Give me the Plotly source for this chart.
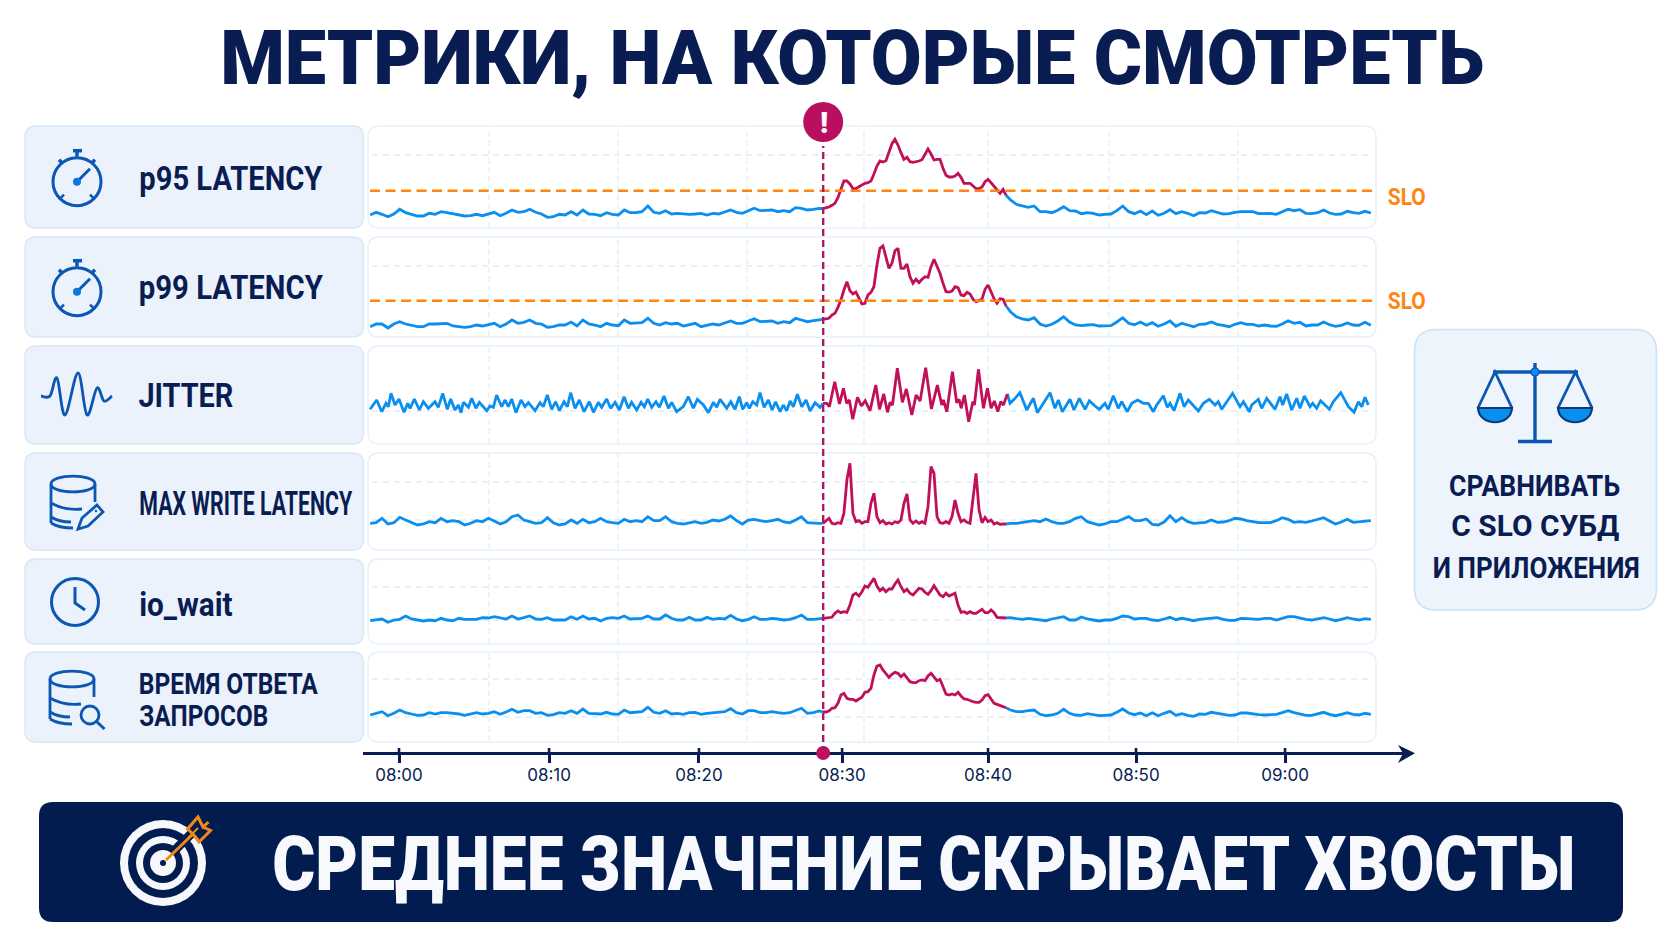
import json
import re
import plotly.graph_objects as go

W, H = 1672, 941

# ---------- text ----------
title_text = "МЕТРИКИ, НА КОТОРЫЕ СМОТРЕТЬ"
banner_text = "СРЕДНЕЕ ЗНАЧЕНИЕ СКРЫВАЕТ ХВОСТЫ"
side_lines = ["СРАВНИВАТЬ", "С SLO СУБД", "И ПРИЛОЖЕНИЯ"]
slo_label = "SLO"

# ---------- time (minutes after 08:00) ----------
t_pre = [round(-1.95 + 0.4 * i, 3) for i in range(77)]
t_inc = [round(28.7 + 0.2033 * i, 3) for i in range(62)]
t_post = [round(41.4 + 0.4 * i, 3) for i in range(62)]
tick_positions = [0, 10.16, 20.31, 30.0, 39.88, 49.9, 59.99]
tick_labels = ["08:00", "08:10", "08:20", "08:30", "08:40", "08:50", "09:00"]
grid_minutes = [6.09, 14.83, 23.56, 31.48, 39.88, 48.07, 56.8]
event_minute = 28.72

# jitter has its own, irregular, sample times
t_jitter_pre = [-1.96,-1.51,-1.17,-0.88,-0.72,-0.54,-0.27,0.0,0.34,0.59,
                0.75,1.04,1.38,1.65,1.99,2.44,2.66,2.96,3.27,3.5,
                3.79,4.02,4.2,4.36,4.7,4.92,5.21,5.44,5.94,6.16,
                6.39,6.61,6.95,7.18,7.4,7.63,7.92,8.26,8.53,8.76,
                9.21,9.55,9.77,10.04,10.34,10.61,10.86,11.17,11.4,11.62,
                11.92,12.21,12.53,12.89,13.16,13.5,13.72,14.06,14.33,14.63,
                14.92,15.24,15.53,15.75,16.09,16.39,16.61,16.84,17.11,17.4,
                17.63,17.94,18.24,18.46,18.8,19.25,19.59,19.93,20.2,20.61,
                20.95,21.28,21.51,21.74,22.19,22.46,22.75,23.04,23.27,23.54,
                23.72,23.95,24.22,24.44,24.72,25.01,25.26,25.5,25.8,26.02,
                26.25,26.48,26.7,26.97,27.27,27.56,27.83,28.17,28.51]
t_jitter_inc = [28.71,28.96,29.14,29.5,29.82,30.09,30.31,30.49,30.72,31.04,
                31.31,31.56,31.89,32.28,32.53,32.82,33.07,33.25,33.41,33.74,
                34.08,34.35,34.72,35.01,35.28,35.66,36.05,36.45,36.75,36.86,
                37.09,37.47,37.76,37.92,38.06,38.28,38.57,38.85,38.96,39.23,
                39.57,39.84,40.09,40.31,40.54,40.74,40.92,41.19]
t_jitter_post = [41.37,41.71,42.04,42.5,42.95,43.22,43.62,44.08,44.41,44.64,
                 44.91,45.43,45.7,46.06,46.45,46.74,47.12,47.42,47.8,48.02,
                 48.36,48.7,48.93,49.31,49.61,50.01,50.4,50.73,51.07,51.3,
                 51.75,52.02,52.2,52.47,52.88,53.15,53.44,53.78,54.12,54.46,
                 54.86,55.25,55.47,55.7,56.04,56.44,56.94,57.17,57.57,57.73,
                 58.18,58.41,58.75,59.31,59.65,59.83,60.1,60.44,60.78,61.0,
                 61.3,61.68,61.86,62.13,62.4,62.99,63.26,63.76,64.28,64.66,
                 64.95,65.18,65.4,65.63]

# ---------- series: before, during and after the incident ----------
p95_pre = [13,15.7,13.7,11.3,14,18.7,15.3,13.7,12,12,
           14.7,13.7,16.3,15.3,14,13,12,12.3,13.7,12.3,
           13.7,15.7,12.3,14.7,18,15.7,16.3,18.7,15.7,14,
           10.7,11.3,13.7,13,16.3,13,18,14,13.7,12.3,
           15.3,13.7,13,18,15.3,15.3,16.3,22,15.7,14.7,
           17.3,14,14.7,14,13.7,14,14.7,13,14.7,14,
           16.3,18,15.7,14.7,17.3,19.7,17.3,17.3,18,16.3,
           17.3,16.3,20.3,19.7,18,18.7,19.7]
p95_inc = [19.3,20,21,22.7,24.7,30.3,39.7,47,47,44,
           39.3,39.3,41.3,43.3,44.7,45.3,47,54,62,67,
           66,67.3,76.3,84.3,88.7,83,75.3,68.7,70.7,66.3,
           65.7,66,67,68.3,73.7,79,74,68,68.7,68.7,
           59.7,52.7,51,51,52,54.7,50.7,44.7,44.7,44.7,
           42,39.3,39.3,41,46.3,48.7,45.3,42,38,34.7,
           38.7,32.7]
p95_post = [28,23.7,22,20.7,22,16.3,16.3,15.3,17.7,21.3,
            17.3,17,14.3,15.3,14.7,13,13.7,14,17.3,22,
            16.3,14.3,17,13.3,17,12.7,14.7,18.3,14.3,16.3,
            14.7,12.3,15.3,15,17.3,15.7,14,14.3,15.7,16.3,
            16,16.3,14.3,14.7,14.7,13.7,16,18.7,17.3,18.3,
            14.7,14.3,15.3,18,15,13.7,14,16.7,15.3,14.7,
            16.7,15]

p99_pre = [10.3,13,13,9,13,15.3,13,12,10.3,10.3,
           13,13,13.7,13.7,11,10.3,9.7,10.3,12,11,
           12,13.7,10.3,13,17,13.7,14.7,17,13.7,13,
           9.7,10.3,12,12,15,11,17,13,12,10.3,
           13.7,12,11.3,17,13.7,13.7,14.3,18.7,13.7,12,
           14.3,13,13.7,11,12,13.7,10.3,12,13,12,
           14.3,16,13.7,13.7,16,18.3,15.3,15.3,16,13.7,
           15.3,14.3,18.7,17,15.3,16.3,17]
p99_inc = [17.7,18.3,18.7,22,23.7,29.7,37,47,55.3,46.3,
           43,45,38.7,33,33.7,42,44.7,50.3,72,88.7,
           91,80.3,68.7,73.7,86.3,88.7,68.7,68.7,73,60.3,
           53.7,57.7,54.3,57.7,60.3,59.7,70.3,77.7,71,63.7,
           53.7,45.3,45,46,50.3,49.3,42,41.3,44.7,43,
           37.7,35.3,36.3,38,47.7,52,45.3,38.3,33.7,38.3,
           37.7,31]
p99_post = [25.3,20.3,18,17,19.3,13,11,12.7,16,20.3,
            15,12,11.3,12,12.3,11,11.3,11.3,15,19.3,
            13.7,12.3,15,11.7,14.3,10.7,13,16,10.7,13.7,
            12,10.3,12.7,13,15,12.7,11.7,10.3,12.7,14.3,
            12.7,12.7,11,12,11,10.7,13,16.3,13.7,14.7,
            11,12,12,15,12.3,10.7,11.7,14,12,11.7,
            14.7,11.7]

jitter_pre = [34.7,44,32.3,40.7,37.3,50.7,39,45,31.7,40.7,
              35.7,45,34,42.3,35.7,42.3,36.7,50.7,34.7,45,
              34,39,31.3,41.7,36.7,45.7,35.7,41.7,33.3,38,
              36.7,49,37.3,44,37.3,45,31.3,44,37.3,41.3,
              33.3,41.3,37.3,49,34.7,42.3,33.3,42.3,37.3,51.3,
              35.7,44,32.3,42.3,31.7,41.7,36.7,45,35.7,41.7,
              34,47.3,35.7,41.7,34,41.7,37.3,45,36.7,42.3,
              36.7,48,35.7,41.7,32.3,37.3,47.3,35.7,44.7,39,
              31.3,41.7,36.7,44.7,35.7,42.3,34.7,47.3,34.7,41.3,
              35.7,42.3,39,51.3,36.7,44,34,42.3,32.3,39,
              33.3,43,37.3,49.7,37.3,44,33,41.3,36.7]
jitter_inc = [40.7,40.7,37.3,62.3,40,55.7,40.7,44,24.7,46.7,
              38,43.3,33.3,59,34.7,50,31.7,41.7,39,75.7,
              41.7,55,29,49,43,76.3,35,59,39,44,
              32.3,72.3,41.3,44.7,35.7,49,22.3,42.3,39,74.7,
              35.7,55.7,35.7,43,32.3,42.3,39,50]
jitter_post = [40.7,45.7,51.3,34,45.7,31.3,40.7,51.3,35.7,44,
               32.3,44.7,34,45.7,34.7,43.3,38,34.7,40.7,34.7,
               48.3,35.7,42.3,32.3,40.7,44,40.7,40.7,32.3,39,
               48.3,36.7,40.7,33.3,50.7,37.3,44,39,33,40.7,
               44.7,39,42.3,34.7,42.3,50.7,37.3,42.3,32.3,39,
               44.7,35.7,45.7,34.7,47.3,39,50,34,45.7,35.7,
               48,37.3,40.7,35.7,43.3,34.7,42.3,51.3,37.3,31.7,
               42.3,37.3,46.7,39]

write_pre = [26.7,27.3,31.7,26,27.3,32.7,30,27.3,25,26,
             28.3,27.3,31.7,28.3,29.3,28.3,25,26.7,29.3,28.3,
             31.7,29,26,28.3,33.3,35,30,28.3,26.7,27.3,
             32.3,27.3,25,26,30,26.7,30.7,27.3,28.3,31.7,
             28.3,27.3,26.7,30.7,28.3,29.3,28.3,33.3,29.3,29.3,
             33.3,28.3,26.7,26,27.3,28.3,26.7,27.7,30,29,
             30.7,34,29.3,26,30,30.7,29.3,28.3,29.3,30.7,
             28,27.3,30,33.3,27.3,26.7,26.7]
write_inc = [26.7,29.3,31.7,26.7,26,27.3,26.7,36.7,70,86.7,
             36.7,28.3,29.3,26.7,28.3,28.3,46.7,56.7,33.3,27.3,
             29.3,26,27.3,26,28.3,27.3,30,46.7,56,30,
             26.7,29,26.7,28.3,26.7,43.3,83.3,76.7,33.3,27.3,
             26.7,28.3,26.7,33.3,50,36.7,28.3,30,27.7,26.7,
             53.3,76.7,40,27.3,32.7,28.3,30,26,27.3,25.7,
             26,26]
write_post = [26.7,26.7,27.7,28.3,29.3,28.3,31,28.3,26.7,26.7,
              28.3,31.7,33.3,28.3,26.7,25,26,28.3,28.3,31,
              33.3,29.3,29.3,31,25.7,25,28,34.3,28.3,32.3,
              28.3,26.7,27.3,27.7,30,27.7,28,29.3,31.7,31,
              29.3,28,27.3,27.3,27.3,29.3,32.3,30.7,27.7,28.3,
              27.7,29,31,32.3,29,26,28,30.7,27.7,28.3,
              28.3,29.3]

io_pre = [23.3,24,25,21.7,24,24.7,28,25,24,23,
          24,23.3,25.7,24,23.3,25.7,24.7,25,24.7,26.3,
          26,27.3,26.3,25,28,25,26.3,28,25,24.7,
          26.3,24,24,24,27.3,24.7,28,25,25.7,23,
          25.7,26.3,25.7,28,25,25,25.7,28,25,25,
          29,25.7,24,24,26.7,24,24,26.7,24.7,25.7,
          25,28.7,25,23.3,24.7,27.3,24.7,24.7,25.7,25,
          24,24.7,26.3,29,24.7,24.7,25.3]
io_inc = [25.7,26,26,26.7,30.7,33,31.3,32.3,31.7,39,
          49,50.7,48,52.3,58,56.7,61.3,65.7,58,53.3,
          55.7,52.3,55,55,60,64,57.3,52.3,54.7,50.7,
          49,52.3,55.7,55,51.7,49.7,53.3,58.3,54,49,
          47.3,50.7,48,49,50.7,39,31.7,32.3,30.7,32.3,
          30.7,30.7,32.3,34.7,31.3,31.3,34,31.3,26.7,26.3,
          26.3,26]
io_post = [26.3,25.3,24.7,25.7,24.7,24,23.3,25,26,27.3,
           24,24,27,25,24,23,24,24,25.7,28,
           27.3,25,25.7,25.7,24,23.3,25,26.7,24.3,25.7,
           24.7,23.3,24.7,25.3,26.3,26.3,24.7,23.7,23.7,25.7,
           25.3,25.3,24.7,25.7,25.7,24,25.3,27.3,27.3,25.7,
           24.7,24,25,26.3,25,23.3,24.7,26.3,25,24,
           25.3,24.7]

query_pre = [27,28.7,30.3,26.3,28.7,32,29.3,28,26.7,27,
             29.3,28,29.3,29.3,28.7,28,26.7,27.7,29.3,28,
             28.7,30.3,27.7,30,32.7,29.7,31.3,31.3,28.7,29.3,
             26.7,27.3,29.3,28.7,31.3,28.7,33,28.7,28.7,28,
             29.7,28,27.7,32,29.3,29.7,30.3,34.7,29.7,28.7,
             31.3,28,28.7,27.7,29.3,29.7,27.7,28.7,29.3,29.3,
             30.3,33.3,29.3,28,31.3,31.3,29.3,29.3,30.3,29.3,
             28.7,29.3,31.3,33.7,28.7,29.3,31]
query_inc = [30,30,31,33.7,34.3,38.7,47,48.7,43.7,42.7,
             42.7,41,43,44.7,49.7,50.3,53.7,67,76,77,
             72,68.7,64.7,67.7,69.7,68.7,65.3,68,64.7,60.3,
             59.3,59.3,61.3,62,61.3,66,68.7,64.7,61.3,62.7,
             55.3,48,47,48,47,49.7,46,43,42.7,41.3,
             40.3,39.7,39.7,42,46.3,47.3,42.7,38.7,37.6,36.3,
             35.3,34.3]
query_post = [32,30.3,30.3,31.3,32,27.7,26.3,27,28.7,32.7,
              28.7,27,26.7,28.3,27.3,26.3,26.7,27,29.7,33,
              29,27.3,29,26.3,29.3,26.3,28.7,30.7,26.7,28.3,
              26.7,25.7,28,27.7,29.7,28.7,27,26.7,27,29,
              29,28,27.3,27,27.3,27.7,29.3,31.3,29.3,28,
              26.7,26.7,28,29.7,27.7,26.3,27.7,29.3,27.7,27,
              28.7,27.7]

series = [
    (t_pre, t_inc, t_post, p95_pre, p95_inc, p95_post),
    (t_pre, t_inc, t_post, p99_pre, p99_inc, p99_post),
    (t_jitter_pre, t_jitter_inc, t_jitter_post, jitter_pre, jitter_inc, jitter_post),
    (t_pre, t_inc, t_post, write_pre, write_inc, write_post),
    (t_pre, t_inc, t_post, io_pre, io_inc, io_post),
    (t_pre, t_inc, t_post, query_pre, query_inc, query_post),
]
slo_values = {0: 37.3, 1: 36.3}
panel_grid_levels = [[73], [71], [33], [68, 30], [57, 24], [63, 25]]

# ---------- layout constants ----------
NAVY = "#0a1d52"
BANNER = "#031c50"
BLUE = "#0a8ef0"
RED = "#c1105a"
ORANGE = "#ff8412"
ICON = "#0b57b3"
panel_tops = [126, 237, 346, 453, 559, 652]
panel_bottoms = [228, 337, 444, 550, 644, 742]
PX0, PXM = 399.0, 14.77
AX_LEFT, AX_RIGHT, AX_Y = 363, 1405, 753


def xp(x):
    return x / W


def yp(y):
    return 1 - y / H


def path_px(d):
    tokens = d.split()
    out, is_x = [], True
    for tok in tokens:
        if re.fullmatch(r"[A-Za-z]", tok):
            out.append(tok)
            is_x = True
        else:
            v = float(tok)
            out.append(f"{xp(v):.6f}" if is_x else f"{yp(v):.6f}")
            is_x = not is_x
    return " ".join(out)


shapes = []


def add_path(d, line=None, width=0, fill=None, layer="below", dash=None):
    ln = dict(color=line or "rgba(0,0,0,0)", width=width)
    if dash:
        ln["dash"] = dash
    shapes.append(dict(type="path", xref="paper", yref="paper", path=path_px(d), line=ln,
                       fillcolor=fill or "rgba(0,0,0,0)", layer=layer))


def rrect(x0, y0, x1, y1, r, line=None, width=0, fill=None):
    add_path(f"M {x0+r} {y0} L {x1-r} {y0} Q {x1} {y0} {x1} {y0+r} L {x1} {y1-r} Q {x1} {y1} {x1-r} {y1} "
             f"L {x0+r} {y1} Q {x0} {y1} {x0} {y1-r} L {x0} {y0+r} Q {x0} {y0} {x0+r} {y0} Z",
             line, width, fill)


def circle(cx, cy, r, line=None, width=0, fill=None):
    shapes.append(dict(type="circle", xref="paper", yref="paper", x0=xp(cx-r), x1=xp(cx+r),
                       y0=yp(cy+r), y1=yp(cy-r), line=dict(color=line or "rgba(0,0,0,0)", width=width),
                       fillcolor=fill or "rgba(0,0,0,0)", layer="below"))


def seg(d, color=ICON, width=3):
    add_path(d, color, width)


def smooth(points):
    d = f"M {points[0][0]} {points[0][1]}"
    n = len(points)
    for i in range(n - 1):
        p0 = points[max(i - 1, 0)]
        p1 = points[i]
        p2 = points[i + 1]
        p3 = points[min(i + 2, n - 1)]
        c1 = (p1[0] + (p2[0] - p0[0]) / 6, p1[1] + (p2[1] - p0[1]) / 6)
        c2 = (p2[0] - (p3[0] - p1[0]) / 6, p2[1] - (p3[1] - p1[1]) / 6)
        d += f" C {c1[0]:.2f} {c1[1]:.2f} {c2[0]:.2f} {c2[1]:.2f} {p2[0]} {p2[1]}"
    return d


# cards and plot panels
for top, bot in zip(panel_tops, panel_bottoms):
    rrect(25, top, 363.5, bot, 11, "#d8e7f8", 1.4, "#ebf2fb")
    rrect(368, top, 1376, bot, 11, "#e6f0fb", 1.4, "#ffffff")
for top, bot in zip(panel_tops, panel_bottoms):
    for m in grid_minutes:
        shapes.append(dict(type="line", xref="x", yref="paper", x0=m, x1=m, y0=yp(bot-1), y1=yp(top+1),
                           line=dict(color="#e4eefa", width=1.3, dash="6px,3px"), layer="below"))
for i, levels in enumerate(panel_grid_levels):
    for lv in levels:
        yref = "y" if i == 0 else f"y{i+1}"
        shapes.append(dict(type="line", xref="paper", yref=yref, x0=xp(372), x1=xp(1368), y0=lv, y1=lv,
                           line=dict(color="#e4ecf8", width=1.3, dash="6px,5px"), layer="below"))

# stopwatch icons
for cy in (181.7, 291.7):
    circle(77, cy, 24, ICON, 3)
    seg(f"M 73 {cy-31} L 82 {cy-31}", ICON, 3.5)
    seg(f"M 77 {cy-31} L 77 {cy-25}", ICON, 3.5)
    seg(f"M 59 {cy-22} L 62 {cy-19}", ICON, 3.5)
    seg(f"M 95 {cy-22} L 92 {cy-19}", ICON, 3.5)
    seg(f"M 77 {cy} L 90 {cy-13}", ICON, 3)
    circle(77, cy, 4, None, 0, "#0a78dd")
    seg(f"M 60 {cy+17} L 64 {cy+13}", ICON, 2.5)
    seg(f"M 94 {cy+17} L 90 {cy+13}", ICON, 2.5)

# wave icon
seg(smooth([(41, 396), (50, 396), (57, 378), (65, 415), (78, 373), (87, 415), (97, 388), (104, 401), (112, 396)]), ICON, 2.8)


def database(cx, top, bottom, rx=22, ry=8):
    add_path(f"M {cx-rx} {top} C {cx-rx} {top-ry*1.3} {cx+rx} {top-ry*1.3} {cx+rx} {top} "
             f"C {cx+rx} {top+ry*1.3} {cx-rx} {top+ry*1.3} {cx-rx} {top} Z", ICON, 2.8)
    seg(f"M {cx-rx} {top} L {cx-rx} {bottom-5}", ICON, 2.8)
    seg(f"M {cx+rx} {top} L {cx+rx} {top+18}", ICON, 2.8)
    seg(f"M {cx-rx} {top+19} Q {cx-8} {top+27} {cx+9} {top+25}", ICON, 2.8)
    seg(f"M {cx-rx} {top+33} Q {cx-14} {top+38} {cx-2} {top+38}", ICON, 2.8)
    seg(f"M {cx-rx} {bottom-5} Q {cx-14} {bottom} {cx} {bottom}", ICON, 2.8)


# database + pen
database(73, 484, 528)
add_path("M 78 529 L 82 518 L 97 505 L 103 512 L 88 526 Z", ICON, 2.8)
circle(96, 511, 1.2, None, 0, ICON)
# clock
circle(75, 602, 23.5, ICON, 3)
seg("M 75 587 L 75 603 L 85 610", ICON, 3)
# database + lens
database(72, 679, 724)
circle(90, 715, 9, ICON, 2.8, "#ebf2fb")
seg("M 96.5 721.5 L 104.5 729", ICON, 3)

# side box with scales
rrect(1414.5, 329.5, 1656.5, 610, 22, "#cbe2f9", 1.6, "#eef4fc")
seg("M 1535 363 L 1535 441", ICON, 3.4)
seg("M 1493 372 L 1578 372", ICON, 3.4)
seg("M 1518 441.5 L 1552 441.5", ICON, 3.4)
circle(1535, 372, 4, ICON, 1.5, "#0a8ef0")
for apex, left, right in ((1495, 1478, 1512), (1575.5, 1558, 1592)):
    seg(f"M {left} 408 L {apex} 372 L {right} 408", ICON, 2.8)
    add_path(f"M {left} 408 C {left+1} 427 {right-1} 427 {right} 408 Z", "#0b3a7a", 2.2, "#0a8ef0")

# axis head and stubs
add_path("M 1415 753.3 L 1398 745 L 1403 753.3 L 1398 763 Z", None, 0, NAVY)
for m in tick_positions:
    shapes.append(dict(type="line", xref="x", yref="paper", x0=m, x1=m, y0=yp(753), y1=yp(748),
                       line=dict(color=NAVY, width=2.6), layer="below"))
shapes.append(dict(type="line", xref="x", yref="paper", x0=event_minute, x1=event_minute, y0=yp(753), y1=yp(146),
                   line=dict(color="#a91a63", width=2.4, dash="7px,4px"), layer="above"))

# banner + target
rrect(39, 802, 1623, 922, 14, None, 0, BANNER)
for r, c in ((43, "#f6f8fc"), (35, BANNER), (27, "#f6f8fc"), (20, BANNER), (13, "#f6f8fc"), (3, BANNER)):
    circle(163, 863, r, None, 0, c)
seg("M 172 853 L 196 829", BANNER, 9)
seg("M 166 860 L 193 834", "#f08a14", 3)
seg("M 193 834 L 187.5 829 L 198 817 L 203 827 L 208.5 822", "#f08a14", 3)
seg("M 193 834 L 199 842 L 210.5 830.5 L 203 827", "#f08a14", 3)
seg("M 188 838 L 198 828", "#f08a14", 2)

# ---------- traces ----------
fig = go.Figure()
for i, (tp, ti, tq, pre, inc, post) in enumerate(series):
    yname = "y" if i == 0 else f"y{i+1}"
    fig.add_trace(go.Scatter(x=tp + [ti[0]], y=pre + [inc[0]], mode="lines", yaxis=yname, xaxis="x",
                             line=dict(color=BLUE, width=2.8), showlegend=False))
    fig.add_trace(go.Scatter(x=[ti[-1]] + tq, y=[inc[-1]] + post, mode="lines", yaxis=yname, xaxis="x",
                             line=dict(color=BLUE, width=2.8), showlegend=False))
    fig.add_trace(go.Scatter(x=ti, y=inc, mode="lines", yaxis=yname, xaxis="x",
                             line=dict(color=RED, width=2.8), showlegend=False))
    if i in slo_values:
        fig.add_trace(go.Scatter(x=[-1.96, 66.1], y=[slo_values[i]] * 2, mode="lines", yaxis=yname, xaxis="x",
                                 line=dict(color=ORANGE, width=2.6, dash="10px,5.5px"), showlegend=False))

# event markers: on a page-tall hidden lane axis, alert above the panels, dot on the time axis
fig.add_trace(go.Scatter(x=[event_minute], y=[122], mode="markers", yaxis="y7", xaxis="x",
                         marker=dict(size=40, color="#b90f5f", line=dict(width=0)), showlegend=False))
fig.add_trace(go.Scatter(x=[event_minute], y=[753], mode="markers", yaxis="y7", xaxis="x",
                         marker=dict(size=14, color="#c1105a", line=dict(width=0)), showlegend=False))

# ---------- text ----------
annotations = []
text_widths = {}
display_sizes = {}


def note(text, left, right, cy, size, color=NAVY, weight=700, fit=True, display=None):
    annotations.append(dict(text=text, x=xp((left + right) / 2), y=yp(cy), xref="paper", yref="paper",
                            xanchor="center", yanchor="middle", showarrow=False, borderpad=0,
                            font=dict(family="Roboto, Noto Sans, sans-serif", size=size, color=color, weight=weight)))
    if fit:
        text_widths[text] = right - left
    if display:
        display_sizes[text] = display


note(title_text, 220, 1484, 58, 76, weight=900)
note(banner_text, 272, 1575, 868, 62, "#f7f9fc", weight=900, display=76)
note("p95 LATENCY", 139, 322, 177.5, 34)
note("p99 LATENCY", 139, 323, 287.5, 34)
note("JITTER", 138, 233, 395, 34)
note("MAX WRITE LATENCY", 139, 352, 503, 34)
note("io_wait", 139, 232.5, 604, 33)
note("ВРЕМЯ ОТВЕТА", 139, 318, 683, 30)
note("ЗАПРОСОВ", 139, 268, 715, 30)
note(slo_label, 1388, 1426, 196.5, 24, ORANGE)
note(slo_label, 1388, 1426, 301, 24, ORANGE)
note(side_lines[0], 1449, 1620, 485, 30)
note(side_lines[1], 1451, 1619, 525, 30)
note(side_lines[2], 1433, 1640, 567, 30)
note("!", 814, 834, 122, 30, "#ffffff", weight=900, fit=False)

# ---------- axes ----------
layout = dict(
    width=W, height=H, autosize=False, margin=dict(l=0, r=0, t=0, b=0, pad=0),
    paper_bgcolor="#ffffff", plot_bgcolor="rgba(0,0,0,0)", hovermode=False,
    shapes=shapes, annotations=annotations, showlegend=False,
    xaxis=dict(domain=[xp(AX_LEFT), xp(AX_RIGHT)],
               range=[(AX_LEFT - PX0) / PXM, (AX_RIGHT - PX0) / PXM],
               anchor="free", position=yp(AX_Y), showgrid=False, zeroline=False,
               showline=True, linecolor=NAVY, linewidth=2.6,
               tickmode="array", tickvals=tick_positions, ticktext=tick_labels,
               ticks="outside", ticklen=8, tickwidth=2.6, tickcolor=NAVY, ticklabelstandoff=-2,
               tickfont=dict(family="Inter, Liberation Sans, sans-serif", size=17, color=NAVY)),
    yaxis7=dict(domain=[0, 1], range=[H, 0], visible=False, anchor="x", fixedrange=True),
)
for i, (top, bot) in enumerate(zip(panel_tops, panel_bottoms)):
    key = "yaxis" if i == 0 else f"yaxis{i+1}"
    layout[key] = dict(domain=[yp(bot), yp(top)], range=[0, bot - top], visible=False,
                       anchor="x", fixedrange=True)
fig.update_layout(**layout)

post_script = """
document.documentElement.style.overflow='hidden';
document.body.style.margin='0';
document.body.style.overflow='hidden';
var FIT=%s;
var SIZE=%s;
function fitText(){
  document.querySelectorAll('.annotation-text').forEach(function(el){
    var t=el.textContent, w=FIT[t];
    if(SIZE[t]){el.style.fontSize=SIZE[t]+'px';}
    if(w){el.setAttribute('textLength',w);el.setAttribute('lengthAdjust','spacingAndGlyphs');}
  });
}
fitText();[50,200,600,1200].forEach(function(t){setTimeout(fitText,t);});
""" % (json.dumps(text_widths, ensure_ascii=False), json.dumps(display_sizes, ensure_ascii=False))

fig.write_html("out.html", config={"displayModeBar": False, "responsive": False}, post_script=post_script)
